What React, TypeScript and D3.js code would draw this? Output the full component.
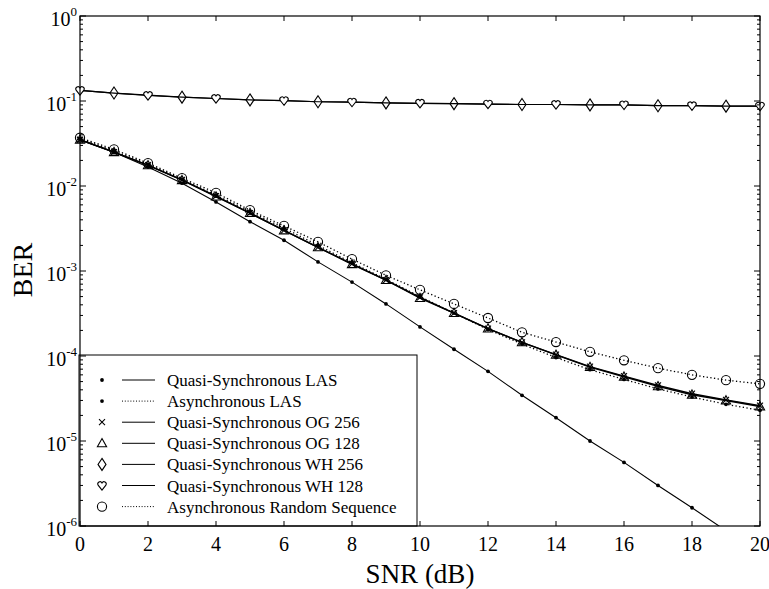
import React from "react";
import * as d3 from "d3";

const snrDb = [0, 1, 2, 3, 4, 5, 6, 7, 8, 9, 10, 11, 12, 13, 14, 15, 16, 17, 18, 19, 20];

const qsLas = [0.035, 0.025, 0.0167, 0.0108, 0.0065, 0.0038, 0.0023, 0.00128, 0.00074, 0.00041, 0.00022, 0.00012, 6.6e-5, 3.45e-5, 1.88e-5, 1.0e-5, 5.6e-6, 3.0e-6, 1.64e-6, 8.8e-7, 4.7e-7];
const asyncLas = [0.036, 0.026, 0.018, 0.012, 0.0078, 0.005, 0.0032, 0.002, 0.00125, 0.0008, 0.0005, 0.00032, 0.000205, 0.000138, 9.6e-5, 6.9e-5, 5.3e-5, 4.1e-5, 3.3e-5, 2.7e-5, 2.3e-5];
const qsOg256 = [0.035, 0.025, 0.0176, 0.0118, 0.0076, 0.0048, 0.003, 0.0019, 0.00121, 0.00078, 0.00049, 0.00032, 0.00021, 0.000145, 0.000104, 7.5e-5, 5.8e-5, 4.5e-5, 3.6e-5, 3.05e-5, 2.6e-5];
const qsOg128 = [0.035, 0.025, 0.0175, 0.0117, 0.0075, 0.0048, 0.003, 0.0019, 0.0012, 0.00078, 0.00048, 0.00032, 0.00021, 0.000145, 0.000103, 7.4e-5, 5.7e-5, 4.4e-5, 3.5e-5, 3.0e-5, 2.55e-5];
const qsWh256 = [0.133, 0.124, 0.117, 0.111, 0.107, 0.103, 0.101, 0.098, 0.097, 0.095, 0.094, 0.093, 0.092, 0.091, 0.091, 0.09, 0.09, 0.088, 0.088, 0.087, 0.087];
const qsWh128 = [0.133, 0.124, 0.116, 0.111, 0.107, 0.103, 0.101, 0.098, 0.097, 0.095, 0.094, 0.093, 0.092, 0.091, 0.091, 0.09, 0.09, 0.088, 0.088, 0.087, 0.087];
const asyncRandom = [0.037, 0.027, 0.0186, 0.0124, 0.0083, 0.0052, 0.0034, 0.0022, 0.00138, 0.00089, 0.0006, 0.00041, 0.00028, 0.00019, 0.000146, 0.000112, 8.9e-5, 7.2e-5, 6.0e-5, 5.2e-5, 4.7e-5];

const legendLabels = [
  "Quasi-Synchronous LAS",
  "Asynchronous LAS",
  "Quasi-Synchronous OG 256",
  "Quasi-Synchronous OG 128",
  "Quasi-Synchronous WH 256",
  "Quasi-Synchronous WH 128",
  "Asynchronous Random Sequence",
];

const xTickValues = [0, 2, 4, 6, 8, 10, 12, 14, 16, 18, 20];
const yTickExponents = [0, -1, -2, -3, -4, -5, -6];

type Marker = "dot" | "x" | "triangle" | "diamond" | "heart" | "circle";
interface Series {
  label: string;
  values: number[];
  marker: Marker;
  dashed: boolean;
  width: number;
  step: number;
  offset: number;
}

const series: Series[] = [
  { label: legendLabels[6], values: asyncRandom, marker: "circle", dashed: true, width: 1.3, step: 1, offset: 0 },
  { label: legendLabels[1], values: asyncLas, marker: "dot", dashed: true, width: 1.3, step: 1, offset: 0 },
  { label: legendLabels[2], values: qsOg256, marker: "x", dashed: false, width: 1.4, step: 1, offset: 0 },
  { label: legendLabels[3], values: qsOg128, marker: "triangle", dashed: false, width: 1.4, step: 1, offset: 0 },
  { label: legendLabels[4], values: qsWh256, marker: "diamond", dashed: false, width: 1.2, step: 2, offset: 1 },
  { label: legendLabels[5], values: qsWh128, marker: "heart", dashed: false, width: 1.2, step: 2, offset: 0 },
  { label: legendLabels[0], values: qsLas, marker: "dot", dashed: false, width: 1.1, step: 1, offset: 0 },
];

const legendOrder: { label: string; marker: Marker; dashed: boolean }[] = [
  { label: legendLabels[0], marker: "dot", dashed: false },
  { label: legendLabels[1], marker: "dot", dashed: true },
  { label: legendLabels[2], marker: "x", dashed: false },
  { label: legendLabels[3], marker: "triangle", dashed: false },
  { label: legendLabels[4], marker: "diamond", dashed: false },
  { label: legendLabels[5], marker: "heart", dashed: false },
  { label: legendLabels[6], marker: "circle", dashed: true },
];

const W = 769;
const H = 589;
const M = { left: 80, right: 760, top: 16, bottom: 526 };
const FONT = "'Liberation Serif', 'Times New Roman', serif";

function MarkerShape({ type, x, y }: { type: Marker; x: number; y: number }) {
  const t = `translate(${x},${y})`;
  const s = { fill: "white", stroke: "black", strokeWidth: 1.1 } as const;
  switch (type) {
    case "dot":
      return <circle transform={t} r={1.9} fill="black" />;
    case "x":
      return (
        <g transform={t} stroke="black" strokeWidth={1.1}>
          <line x1={-3} y1={-3} x2={3} y2={3} />
          <line x1={-3} y1={3} x2={3} y2={-3} />
        </g>
      );
    case "triangle":
      return <path transform={t} d="M0,-4.8L4.6,3.4L-4.6,3.4Z" {...s} fillOpacity={0} />;
    case "diamond":
      return <path transform={t} d="M0,-6L4,0L0,6L-4,0Z" {...s} />;
    case "heart":
      return (
        <path
          transform={t}
          d="M0,4.6L-3.9,-0.4A2.1,2.1 0 0 1 0,-2.6A2.1,2.1 0 0 1 3.9,-0.4Z"
          {...s}
        />
      );
    case "circle":
      return <circle transform={t} r={4.6} {...s} fillOpacity={0} />;
  }
}

export default function App() {
  const x = d3.scaleLinear().domain([0, 20]).range([M.left, M.right]);
  const y = d3.scaleLog().domain([1e-6, 1]).range([M.bottom, M.top]);
  const line = d3
    .line<number>()
    .x((_, i) => x(snrDb[i]))
    .y((v) => y(v));

  const minorTicks: number[] = [];
  for (let e = -6; e < 0; e++) {
    for (let k = 2; k <= 9; k++) minorTicks.push(k * Math.pow(10, e));
  }

  return (
    <svg
      width={W}
      height={H}
      style={{ position: "absolute", left: 0, top: 0, background: "white" }}
      fontFamily={FONT}
    >
      <rect x={0} y={0} width={W} height={H} fill="white" />
      <defs>
        <clipPath id="plotClip">
          <rect x={M.left - 6} y={M.top} width={M.right - M.left + 12} height={M.bottom - M.top} />
        </clipPath>
      </defs>

      {/* series */}
      <g clipPath="url(#plotClip)">
        {series.map((s, si) => (
          <g key={si}>
            <path
              d={line(s.values) || ""}
              fill="none"
              stroke="black"
              strokeWidth={s.width}
              strokeDasharray={s.dashed ? "1.3 2.4" : undefined}
            />
            {s.values.map((v, i) =>
              i % s.step === s.offset % s.step ? (
                <MarkerShape key={i} type={s.marker} x={x(snrDb[i])} y={y(v)} />
              ) : null
            )}
          </g>
        ))}
      </g>

      {/* legend */}
      <g>
        <rect x={79} y={355} width={338} height={M.bottom - 355} fill="white" stroke="black" strokeWidth={1} />
        {legendOrder.map((l, i) => {
          const cy = 380 + i * 21.1;
          return (
            <g key={i}>
              <MarkerShape type={l.marker} x={102} y={cy} />
              <line
                x1={122}
                x2={155}
                y1={cy}
                y2={cy}
                stroke="black"
                strokeWidth={1}
                strokeDasharray={l.dashed ? "1 1.8" : undefined}
              />
              <text x={167} y={cy + 6} fontSize={17}>
                {l.label}
              </text>
            </g>
          );
        })}
      </g>

      {/* frame */}
      <rect
        x={M.left}
        y={M.top}
        width={M.right - M.left}
        height={M.bottom - M.top}
        fill="none"
        stroke="black"
        strokeWidth={1.2}
      />

      {/* x ticks */}
      {xTickValues.map((v) => (
        <g key={v}>
          <line x1={x(v)} x2={x(v)} y1={M.bottom} y2={M.bottom - 5} stroke="black" />
          <line x1={x(v)} x2={x(v)} y1={M.top} y2={M.top + 5} stroke="black" />
          <text x={x(v)} y={551} fontSize={20} textAnchor="middle">
            {v}
          </text>
        </g>
      ))}

      {/* y ticks */}
      {yTickExponents.map((e) => {
        const yy = y(Math.pow(10, e));
        return (
          <g key={e}>
            <line x1={M.left} x2={M.left + 6} y1={yy} y2={yy} stroke="black" />
            <line x1={M.right} x2={M.right - 6} y1={yy} y2={yy} stroke="black" />
            <text x={M.left - 3} y={yy + 10} fontSize={20} textAnchor="end">
              10
              <tspan fontSize={13} dy={-10}>
                {e}
              </tspan>
            </text>
          </g>
        );
      })}
      {minorTicks.map((v, i) => (
        <g key={"m" + i}>
          <line x1={M.left} x2={M.left + 3} y1={y(v)} y2={y(v)} stroke="black" />
          <line x1={M.right} x2={M.right - 3} y1={y(v)} y2={y(v)} stroke="black" />
        </g>
      ))}

      {/* axis titles */}
      <text x={(M.left + M.right) / 2} y={583} fontSize={27} textAnchor="middle">
        SNR (dB)
      </text>
      <text
        transform={`translate(32,${(M.top + M.bottom) / 2 - 1}) rotate(-90)`}
        fontSize={28}
        textAnchor="middle"
      >
        BER
      </text>
    </svg>
  );
}
